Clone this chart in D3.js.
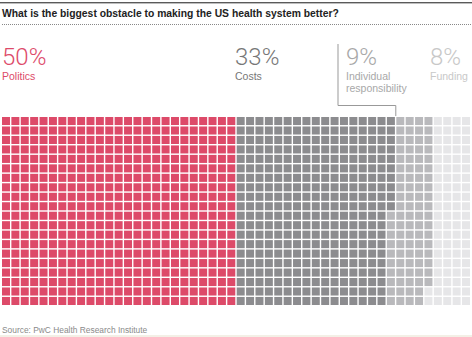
<!DOCTYPE html>
<meta charset="utf-8">
<style>
body { margin: 0; background: #fff; }
svg { display: block; font-family: "Liberation Sans", Arial, sans-serif; }
.title { font-weight: bold; font-size: 10.35px; fill: #222; }
.big { font-family: Roboto, "Liberation Sans", sans-serif; font-weight: 300; font-size: 24px; }
.sub { font-size: 10.5px; }
.source { font-size: 8.4px; fill: #8a8a8a; }
</style>
<script src="https://d3js.org/d3.v7.min.js"></script>
<svg id="chart" width="472" height="337"></svg>
<script>

var categories = ["Politics", "Costs", "Individual responsibility", "Funding"];
var values = [50, 33, 8.8, 8.2];   // percent of respondents
var colors = ["#dd4a69", "#8c8c8f", "#b9b9bc", "#e6e6e8"];
var labelColors = ["#dd4a69", "#777777", "#a8a8a8", "#c8c8c8"];
var labelX = [2, 235, 346, 430];

var svg = d3.select("svg#chart"),
    width = +svg.attr("width"),
    height = +svg.attr("height");

var nCols = 50, nRows = 20;

// top rule + title + dotted rule
svg.append("rect")
    .attr("x", 0).attr("y", 2).attr("width", width).attr("height", 1.4)
    .attr("fill", "#5a5a5a");

svg.append("text")
    .attr("class", "title")
    .attr("x", 2).attr("y", 16.6)
    .text("What is the biggest obstacle to making the US health system better?");

svg.append("line")
    .attr("x1", 2).attr("x2", width - 1)
    .attr("y1", 24.5).attr("y2", 24.5)
    .attr("stroke", "#888")
    .attr("stroke-width", 1)
    .attr("stroke-dasharray", "1,1");

// waffle
var x = d3.scaleBand().domain(d3.range(nCols)).range([2, 470]).paddingInner(0.15).paddingOuter(0.0);
var y = d3.scaleBand().domain(d3.range(nRows)).range([117, 305]).paddingInner(0.15).paddingOuter(0.0);

var cum = d3.cumsum(values.map(function(v) { return Math.round(v * 10); }));

var cells = d3.range(nCols * nRows).map(function(i) {
  return { i: i, col: Math.floor(i / nRows), row: i % nRows, cat: d3.bisectRight(cum, i) };
});

svg.append("g")
  .selectAll("rect")
  .data(cells)
  .enter().append("rect")
    .attr("x", function(d) { return x(d.col); })
    .attr("y", function(d) { return y(d.row); })
    .attr("width", x.bandwidth())
    .attr("height", y.bandwidth())
    .attr("fill", function(d) { return colors[Math.min(d.cat, 3)]; });

// labels
var fmt = d3.format(".0f");
var labels = svg.append("g").selectAll("g")
  .data(categories)
  .enter().append("g")
    .attr("transform", function(d, i) { return "translate(" + labelX[i] + ",0)"; })
    .attr("fill", function(d, i) { return labelColors[i]; });

labels.append("text")
    .attr("class", "big")
    .attr("y", 64.5)
    .text(function(d, i) { return fmt(values[i]) + "%"; });

labels.append("text")
    .attr("class", "sub")
    .attr("y", 80)
  .selectAll("tspan")
  .data(function(d) { return d === "Individual responsibility" ? ["Individual", "responsibility"] : [d]; })
  .enter().append("tspan")
    .attr("x", 0)
    .attr("dy", function(d, i) { return i ? 11.5 : 0; })
    .text(function(d) { return d; });

// callout for Individual responsibility
var startCol = Math.floor(cum[1] / nRows) + 1;
var cx = x(startCol) - 0.5;
svg.append("path")
    .attr("d", "M338,44V105.5H" + cx + "V116")
    .attr("fill", "none")
    .attr("stroke", "#999")
    .attr("stroke-width", 1);

// source
svg.append("text")
    .attr("class", "source")
    .attr("x", 2).attr("y", 333)
    .text("Source: PwC Health Research Institute");

svg.append("rect")
    .attr("x", 0).attr("y", 335).attr("width", width).attr("height", 2)
    .attr("fill", "#f3f0e6");

</script>
